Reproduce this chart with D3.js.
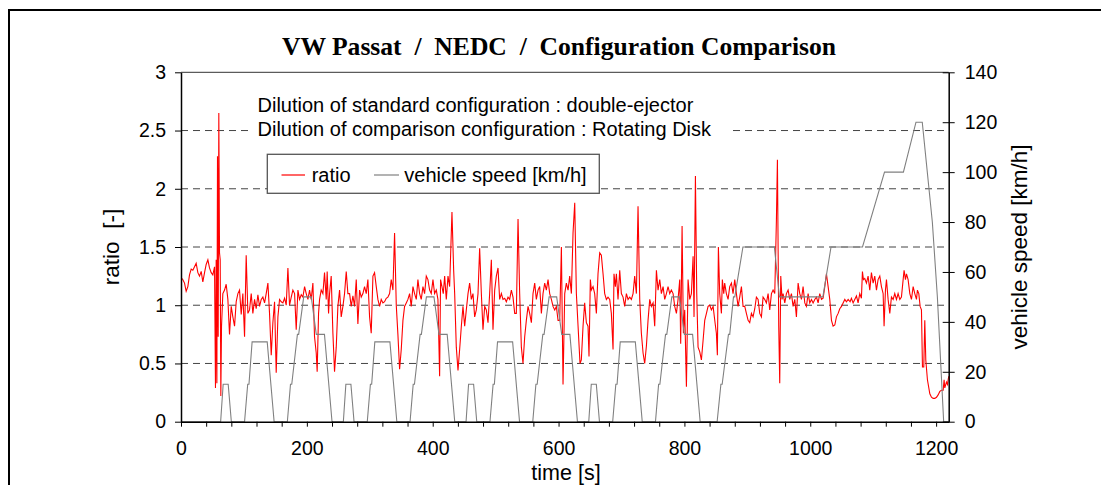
<!DOCTYPE html>
<html>
<head>
<meta charset="utf-8">
<script src="https://cdn.jsdelivr.net/npm/d3@7"></script>
<style>
body { margin: 0; background: #fff; }
svg text { white-space: pre; }
</style>
</head>
<body>
<script>
// ratio [-] as [time s, value]
var ratioPoints = [
[1.9,1.23],[5.6,1.19],[8.2,1.12],[10.9,1.16],[13.5,1.26],[16.2,1.31],[18.8,1.30],[21.5,1.33],[24.1,1.36],[26.8,1.28],
[29.4,1.25],[32.1,1.29],[34.7,1.20],[37.4,1.28],[40,1.35],[42.7,1.39],[45.3,1.32],[48,1.28],[50.6,1.26],[53.3,1.33],
[54.8,0.29],[55.9,1.39],[57,0.33],[58,2.28],[59.1,0.73],[60.1,2.65],[61.2,1.45],[62.3,1.39],[63.3,0.22],[64.4,0.82],
[66.5,1.10],[69.2,1.13],[71.8,1.18],[74.5,1.05],[77.1,0.75],[79.8,0.99],[82.4,0.90],[85.1,0.82],[87.7,1.03],[90.4,1.10],
[93,1.13],[95.7,0.92],[98.3,1.10],[101,0.73],[103.6,1.43],[106.3,0.93],[108.9,0.96],[111.6,1.10],[114.2,0.93],[116.9,1.05],
[119.5,0.97],[122.2,1.09],[124.8,0.99],[127.5,1.05],[130.1,1.07],[132.8,1.02],[135.4,1.10],[138.1,1.19],[140.7,0.93],[143.4,0.57],
[146,0.85],[148.7,1.03],[151.3,0.42],[154,0.90],[156.6,1.05],[159.3,1.03],[161.9,1.02],[164.6,1.06],[167.2,1.00],[169.9,1.32],
[172.5,1.00],[175.2,1.07],[177.8,1.13],[180.5,1.10],[183.1,0.79],[185.8,1.13],[188.4,1.05],[191.1,1.09],[193.7,1.07],[196.4,1.16],
[199,1.10],[201.7,1.05],[204.3,1.13],[206.9,1.05],[209.6,1.19],[212.2,0.73],[214.9,0.59],[216.4,0.43],[218.6,0.93],[220.2,1.05],
[222.8,1.13],[225.5,1.10],[228.1,1.28],[230.8,1.05],[232.3,1.29],[234.5,0.93],[236.1,1.10],[238.7,1.25],[241.4,0.76],[244,0.43],
[246.7,0.64],[249.3,0.99],[252,1.13],[254.6,0.90],[257.3,0.99],[259.9,1.10],[262.6,1.29],[265.2,1.10],[267.9,1.10],[270.5,0.99],
[273.2,1.08],[275.8,0.99],[278.5,1.22],[281.1,0.84],[283.8,1.13],[286.4,1.07],[289.1,1.10],[291.7,1.16],[294.4,1.10],[297,1.22],
[299.7,0.90],[302.3,0.76],[305,1.25],[307.6,1.28],[310.3,1.16],[312.9,1.05],[315.6,0.99],[318.2,1.05],[320.9,1.02],[323.5,1.03],
[326.2,1.06],[328.8,1.07],[331.5,1.10],[334.1,1.22],[336.8,1.13],[339.4,1.62],[342.1,1.00],[344.7,0.75],[347.4,0.45],[350,0.62],
[352.7,0.87],[355.3,0.99],[358,1.02],[360.6,1.05],[363.3,1.10],[365.9,0.99],[368.6,1.16],[371.2,1.10],[373.9,1.05],[376.5,1.22],
[379.2,1.10],[381.8,1.05],[384.5,1.16],[387.1,1.10],[389.8,1.25],[392.4,1.22],[395.1,1.13],[397.7,1.10],[400.4,1.22],[403,1.10],
[405.7,1.13],[408.3,1.05],[411,0.39],[412.5,1.22],[414.7,1.16],[416.8,1.10],[419,1.25],[421.6,1.05],[424.3,1.25],[426.9,1.16],
[430.6,1.80],[433.3,1.30],[434.9,1.10],[437.5,0.64],[440.2,0.44],[442.8,0.62],[445.5,0.82],[448.1,0.99],[450.8,0.82],[453.4,0.96],
[456.1,1.10],[458.7,1.19],[461.4,1.05],[464,1.10],[466.7,0.90],[469.3,0.96],[472,1.10],[474.6,1.49],[477.3,1.10],[479.9,0.79],
[482.6,0.99],[485.2,0.96],[487.9,0.85],[490.5,1.10],[493.2,1.39],[495.8,0.79],[498.5,1.13],[501.1,1.25],[503.8,1.32],[506.4,1.05],
[509.1,1.10],[511.7,1.05],[514.4,1.06],[517,1.03],[519.7,1.07],[522.3,1.05],[525,1.13],[527.6,1.07],[530.3,0.93],[532.9,0.93],
[535.6,1.74],[538.2,1.10],[540.9,0.64],[543.5,0.50],[546.2,0.73],[548.8,0.87],[551.5,0.99],[554.1,0.93],[556.8,0.85],[559.4,1.10],
[562.1,1.19],[564.7,1.05],[567.4,1.13],[570,1.16],[572.7,0.93],[575.3,1.10],[578,1.19],[580.6,1.13],[583.3,1.22],[585.9,1.10],
[588.6,1.05],[591.2,0.99],[593.9,0.96],[596.5,0.99],[599.2,0.87],[601.8,0.87],[604.5,1.50],[607.1,0.32],[609.8,1.10],[612.4,1.19],
[615.1,1.13],[617.7,1.25],[620.4,1.10],[623,1.62],[625.7,1.88],[628.3,1.10],[631,0.82],[634.1,0.50],[636.2,0.53],[638.9,0.82],
[641.5,1.02],[644.2,0.85],[646.8,0.82],[648.4,0.56],[650.5,1.22],[652.1,1.13],[654.8,1.16],[657.4,1.10],[660.1,0.93],[662.7,1.27],
[665.4,1.45],[668,1.43],[670.7,1.27],[673.3,1.10],[676,1.05],[678.6,1.07],[681.3,1.05],[683.9,0.93],[686.6,0.62],[688.1,1.27],
[690.3,1.16],[691.9,1.27],[694.5,1.05],[697.2,1.30],[699.8,1.10],[702.5,1.07],[705.1,0.99],[707.8,1.10],[710.4,1.05],[713.1,1.07],
[715.7,1.05],[718.4,1.10],[721,1.25],[723.7,1.10],[726.3,1.85],[729,1.05],[731.6,0.76],[734.3,0.59],[736.9,0.50],[739.6,0.65],
[742.2,0.87],[744.9,1.05],[747.5,0.99],[750.2,1.02],[752.8,0.82],[755.5,1.30],[758.1,1.13],[760.8,1.22],[763.4,1.10],[766.1,1.16],
[768.7,1.05],[771.4,1.10],[774,1.16],[776.7,1.10],[779.3,1.13],[782,1.10],[784.6,0.99],[787.3,0.93],[789.9,1.05],[792.6,1.22],
[794.1,0.67],[796.3,1.68],[798.4,0.76],[800.5,0.96],[803.2,0.30],[805.8,1.22],[808.5,1.05],[811.1,1.10],[813.8,1.42],[815.3,0.90],
[817.5,2.11],[819.6,1.10],[821.7,0.64],[824.4,0.60],[827,0.53],[829.7,0.70],[832.3,0.87],[835,0.93],[837.6,0.99],[840.3,1.00],
[842.9,0.96],[845.6,0.99],[848.7,0.85],[850.8,0.76],[852.4,0.57],[854,1.50],[856.1,1.10],[858.8,0.93],[860.3,1.22],[862.5,1.10],
[864,1.19],[866.7,1.10],[869.4,1.05],[872,1.16],[874.7,1.19],[877.3,1.10],[880,1.22],[882.6,1.10],[885.3,0.99],[887.9,1.07],
[890.6,1.16],[893.2,0.99],[895.9,0.99],[898.5,0.93],[901.2,0.87],[903.8,0.85],[906.5,0.93],[909.1,0.90],[911.8,0.97],[914.4,1.07],
[917.1,1.05],[919.7,0.93],[922.4,0.90],[925,1.07],[927.7,1.05],[930.3,1.02],[933,1.10],[935.6,0.96],[938.3,1.10],[940.9,1.13],
[943.6,1.10],[946.2,1.73],[947.8,2.25],[949.9,0.82],[951.5,0.33],[953.1,1.25],[955.2,1.05],[956.8,1.10],[959.5,1.02],[962.1,1.10],
[964.8,1.13],[967.4,1.05],[970.1,1.10],[972.7,0.99],[975.4,1.05],[978,0.90],[980.7,1.19],[983.3,1.10],[986,1.05],[988.6,1.16],
[991.3,1.02],[993.9,0.99],[996.6,1.10],[999.2,1.02],[1001.9,1.05],[1004.5,1.02],[1007.2,1.05],[1009.8,1.07],[1012.5,1.02],[1015.1,1.10],
[1017.8,1.05],[1020.4,1.06],[1023.1,1.16],[1025.7,1.27],[1028.4,1.16],[1031,1.05],[1033.7,0.87],[1036.3,0.82],[1039,0.83],[1041.6,0.90],
[1044.3,0.93],[1046.9,0.97],[1049.6,0.99],[1052.2,1.02],[1054.9,1.05],[1057.5,1.03],[1060.2,1.05],[1063.3,1.03],[1065.4,1.06],[1068.1,1.02],
[1070.7,1.05],[1073.4,1.08],[1076,1.02],[1078.7,1.10],[1081.3,1.06],[1082.9,1.29],[1084.5,1.22],[1086.6,1.23],[1089.3,1.19],[1091.9,1.25],
[1094.6,1.13],[1097.2,1.28],[1099.9,1.19],[1102.5,1.25],[1105.2,1.13],[1107.8,1.22],[1110.5,1.25],[1113.1,1.16],[1115.8,1.10],[1117.3,0.82],
[1119.5,1.13],[1121.1,1.22],[1123.7,1.05],[1126.4,0.93],[1129,1.07],[1131.7,1.05],[1134.3,1.10],[1137,1.05],[1139.6,1.10],[1142.3,1.05],
[1144.9,1.07],[1147.6,1.22],[1149.1,1.30],[1151.3,1.22],[1152.9,1.27],[1155.5,1.22],[1158.2,1.10],[1160.8,1.05],[1163.5,1.16],[1166.1,1.10],
[1168.8,1.05],[1170.3,1.13],[1172.5,1.10],[1174.6,0.99],[1176.7,0.96],[1178.3,0.47],[1180.4,0.47],[1182,0.87],[1183.6,0.53],[1186.2,0.36],
[1190,0.24],[1192.6,0.21],[1195.3,0.20],[1197.9,0.20],[1200.6,0.21],[1203.2,0.23],[1205.9,0.26],[1208.5,0.27],[1211.2,0.27],[1212.7,0.36],
[1213.8,0.29],[1216.4,0.34],[1218,0.32],[1220,0.39]
];

// vehicle speed breakpoints (NEDC as drawn)
var speedTime = [0,63,67,75,80,101,106,108,113,137,148,169,174,176,185,187,195,207,215,228,240,
  258,262,270,275,296,301,303,308,332,343,364,369,371,380,382,390,402,410,423,435,
  453,457,465,470,491,496,498,503,527,538,559,564,566,575,577,585,597,605,618,630,
  648,652,660,665,686,691,693,698,722,733,754,759,761,770,772,780,792,800,813,825,
  852,858,860,870,872,878,880,893,943,951,1020,1033,1083,1118,1148,1168,1178,1194,1202,1212,1220];
var speedKmh = [0,0,15,15,0,0,15,15,32,32,0,0,15,15,35,35,50,50,35,35,0,
  0,15,15,0,0,15,15,32,32,0,0,15,15,35,35,50,50,35,35,0,
  0,15,15,0,0,15,15,32,32,0,0,15,15,35,35,50,50,35,35,0,
  0,15,15,0,0,15,15,32,32,0,0,15,15,35,35,50,50,35,35,0,
  0,15,15,35,35,50,50,70,70,50,50,70,70,100,100,120,120,80,50,0,0];

var ratioTicks = [0,0.5,1,1.5,2,2.5,3];
var speedTicks = [0,20,40,60,80,100,120,140];
var timeTicks = d3.range(0, 1201, 40);
var timeLabels = [0,200,400,600,800,1000,1200];

var sans = "'Liberation Sans', Arial, sans-serif";
var svg = d3.select("body").append("svg").attr("width",1101).attr("height",485)
  .style("font-family", sans);

// outer frame
svg.append("rect").attr("x",9).attr("y",10).attr("width",1200).attr("height",600)
  .attr("fill","none").attr("stroke","#000").attr("stroke-width",2);

var x = d3.scaleLinear().domain([0,1220]).range([181,948.7]);
var yL = d3.scaleLinear().domain([0,3]).range([421.7,72.3]);
var yR = d3.scaleLinear().domain([0,140]).range([421.7,72.3]);

// grid
svg.selectAll(".grid").data(ratioTicks.slice(1,6)).enter().append("line")
  .attr("x1",181).attr("x2",948.7)
  .attr("y1",d=>yL(d)).attr("y2",d=>yL(d))
  .attr("stroke","#444").attr("stroke-width",1).attr("stroke-dasharray","7,5");
svg.append("line").attr("x1",181).attr("x2",948.7).attr("y1",yL(3)).attr("y2",yL(3))
  .attr("stroke","#333").attr("stroke-width",1);

svg.append("clipPath").attr("id","plot").append("rect")
  .attr("x",181).attr("y",72.3).attr("width",768).attr("height",350);

var ratioLine = d3.line().x(d=>x(d[0])).y(d=>yL(d[1]));
svg.append("path").datum(ratioPoints).attr("d",ratioLine)
  .attr("fill","none").attr("stroke","#ff0000").attr("stroke-width",1.1)
  .attr("clip-path","url(#plot)");

var speedLine = d3.line().x((d,i)=>x(speedTime[i])).y(d=>yR(d));
svg.append("path").datum(speedKmh).attr("d",speedLine)
  .attr("fill","none").attr("stroke","#808080").attr("stroke-width",1.1)
  .attr("clip-path","url(#plot)");

// axes
var gl = svg.append("g").attr("transform","translate(181,0)")
  .call(d3.axisLeft(yL).tickValues(ratioTicks).tickSize(6).tickSizeOuter(0).tickPadding(9)
    .tickFormat(d=>String(d)));
var gr = svg.append("g").attr("transform","translate(948.7,0)")
  .call(d3.axisRight(yR).tickValues(speedTicks).tickSize(6).tickSizeOuter(0).tickPadding(10));
gr.selectAll(".tick line").attr("x1",-6);
var gb = svg.append("g").attr("transform","translate(0,421.7)")
  .call(d3.axisBottom(x).tickValues(timeTicks).tickSize(5).tickSizeOuter(0).tickPadding(14.5)
    .tickFormat(d=> timeLabels.indexOf(d) >= 0 ? d : ""));

[gl,gr,gb].forEach(function(g){
  g.select(".domain").attr("stroke","#000").attr("stroke-width",1.5);
  g.selectAll(".tick line").attr("stroke","#000");
  g.selectAll("text").attr("font-size","19.5px").attr("fill","#000")
    .attr("font-family", sans);
});

// title
svg.append("text").attr("x",559).attr("y",55).attr("text-anchor","middle")
  .style("font-family","'Liberation Serif', 'Times New Roman', serif")
  .attr("font-weight","bold").attr("font-size","25.6px")
  .text("VW Passat  /  NEDC  /  Configuration Comparison");

// annotation
svg.append("rect").attr("x",253).attr("y",90).attr("width",480).attr("height",51).attr("fill","#fff");
svg.append("text").attr("x",257.5).attr("y",112.3).attr("font-size","20px")
  .text("Dilution of standard configuration : double-ejector");
svg.append("text").attr("x",257.5).attr("y",135.7).attr("font-size","20px")
  .text("Dilution of comparison configuration : Rotating Disk");

// legend
var lg = svg.append("g");
lg.append("rect").attr("x",267.3).attr("y",154.3).attr("width",332).attr("height",39)
  .attr("fill","#fff").attr("stroke","#555").attr("stroke-width",1.3);
lg.append("line").attr("x1",281.5).attr("x2",305).attr("y1",175).attr("y2",175)
  .attr("stroke","#ff0000").attr("stroke-width",1.2);
lg.append("text").attr("x",311.7).attr("y",181.7).attr("font-size","20px").text("ratio");
lg.append("line").attr("x1",374).attr("x2",399).attr("y1",175).attr("y2",175)
  .attr("stroke","#808080").attr("stroke-width",1.2);
lg.append("text").attr("x",404.3).attr("y",181.7).attr("font-size","20px").text("vehicle speed [km/h]");

// axis titles
svg.append("text").attr("transform","translate(111,247) rotate(-90)")
  .attr("text-anchor","middle").attr("dy","0.35em").attr("font-size","22.5px").text("ratio  [-]");
svg.append("text").attr("transform","translate(1019,247) rotate(-90)")
  .attr("text-anchor","middle").attr("dy","0.35em").attr("font-size","22.5px").text("vehicle speed [km/h]");
svg.append("text").attr("x",566).attr("y",479.5).attr("text-anchor","middle")
  .attr("font-size","21.5px").text("time [s]");
</script>
</body>
</html>
